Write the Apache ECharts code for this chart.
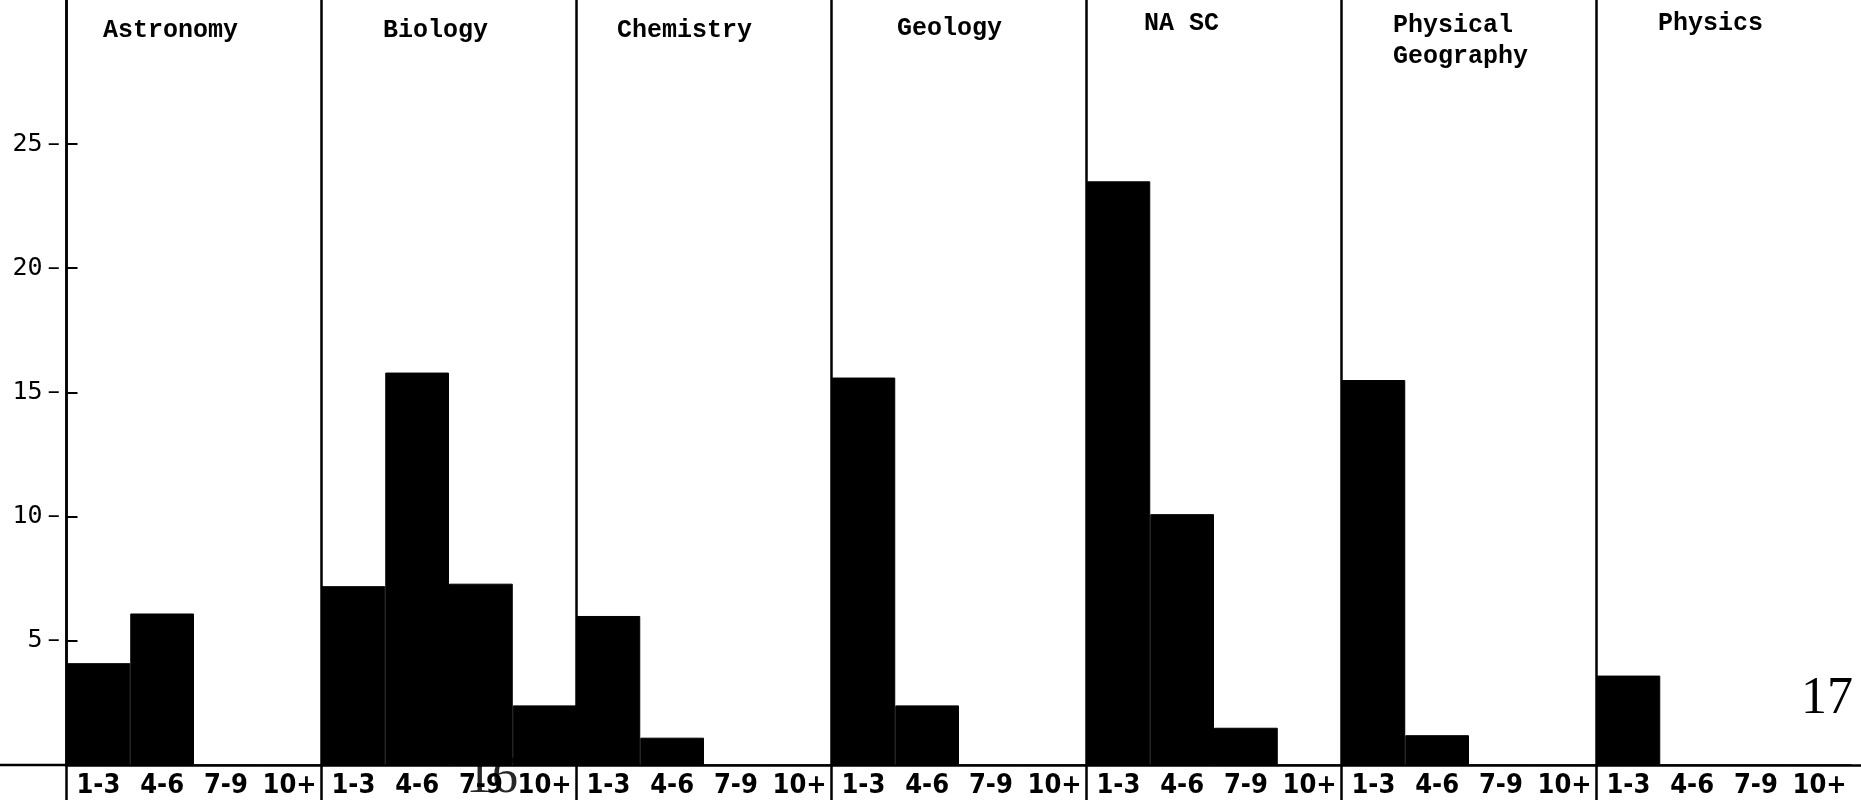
<!DOCTYPE html>
<html>
<head>
<meta charset="utf-8">
<script src="https://cdn.jsdelivr.net/npm/echarts@6/dist/echarts.min.js"></script>
<style>
  html, body { margin: 0; padding: 0; background: #fff; }
  #chart { width: 1861px; height: 800px; }
</style>
</head>
<body>
<div id="chart"></div>
<script>
// ---- data ----
const subjects = ['Astronomy', 'Biology', 'Chemistry', 'Geology', 'NA SC', 'Physical\nGeography', 'Physics'];
const bins = ['1-3', '4-6', '7-9', '10+'];
const astronomy = [4.1, 6.1, 0, 0];
const biology = [7.2, 15.8, 7.3, 2.4];
const chemistry = [6.0, 1.1, 0, 0];
const geology = [15.6, 2.4, 0, 0];
const naSc = [23.5, 10.1, 1.5, 0];
const physicalGeography = [15.5, 1.2, 0, 0];
const physics = [3.6, 0, 0, 0];
const yTicks = [5, 10, 15, 20, 25];
const pageNumber = '17';

// ---- build ----
const subjectValues = [astronomy, biology, chemistry, geology, naSc, physicalGeography, physics];
const categories = [];
const values = [];
subjectValues.forEach(function (arr) {
  bins.forEach(function (b, i) { categories.push(b); values.push(arr[i]); });
});
const nCat = categories.length;
// one empty trailing slot past the page edge so the axis runs to the right border
const axisCats = categories.concat(['']);
const axisValues = values.concat([null]);

// layout of panel titles (text annotations)
const titleLayout = [
  { x: 103, y: 31 }, { x: 383, y: 31 }, { x: 617, y: 31 }, { x: 897, y: 29 },
  { x: 1144, y: 24 }, { x: 1393, y: 41 }, { x: 1658, y: 24 }
];
const bandWidth = 63.75;

const chart = echarts.init(document.getElementById('chart'), null, { renderer: 'canvas' });
const monoTitle = 'Liberation Mono, Courier New, monospace';
const panelBoundary = function (idx) { return idx % bins.length === 0 && idx < nCat; };

const option = {
  backgroundColor: '#ffffff',
  animation: false,
  grid: { left: 66.5, top: 0, width: bandWidth * axisCats.length, height: 765,
          containLabel: false, outerBoundsMode: 'none' },
  xAxis: {
    type: 'category',
    data: axisCats,
    boundaryGap: true,
    axisLine: { show: true, lineStyle: { color: '#000', width: 2.5 } },
    axisTick: { show: true, interval: panelBoundary, length: 40, alignWithLabel: false,
                lineStyle: { color: '#000', width: 2.5 } },
    splitLine: { show: true, interval: panelBoundary, lineStyle: { color: '#000', width: 2.5 } },
    axisLabel: {
      interval: 0, margin: 7, color: '#000',
      fontFamily: 'DejaVu Sans Condensed, DejaVu Sans, sans-serif',
      fontWeight: 'bold', fontSize: 27
    }
  },
  yAxis: {
    type: 'value',
    min: 0, max: 30.8, interval: 5,
    axisLine: { show: true, lineStyle: { color: '#000', width: 2.5 } },
    axisTick: { show: true, inside: true, length: 11, customValues: yTicks,
                lineStyle: { color: '#000', width: 2 } },
    splitLine: { show: false },
    axisLabel: {
      customValues: yTicks, margin: 6.5, color: '#000',
      formatter: function (v) { return '{n|' + v + '}{d|\u2013}'; },
      rich: {
        n: { fontFamily: 'DejaVu Sans Mono, monospace', fontSize: 25, color: '#000' },
        d: { fontFamily: 'DejaVu Sans, sans-serif', fontSize: 25, color: '#000', padding: [0, 0, 0, 5] }
      }
    }
  },
  series: [{
    type: 'bar',
    data: axisValues,
    barCategoryGap: '0%',
    itemStyle: { color: '#000', borderColor: '#000', borderWidth: 1 },
    silent: true
  }],
  graphic: []
};
chart.setOption(option);

// graphic annotations
const baseY = chart.convertToPixel({ yAxisIndex: 0 }, 0);
const graphics = [];
// baseline continues left of the y axis
graphics.push({
  type: 'line', silent: true,
  shape: { x1: 0, y1: baseY, x2: 66.5, y2: baseY },
  style: { stroke: '#000', lineWidth: 2.5 }
});
subjects.forEach(function (s, i) {
  graphics.push({
    type: 'text', silent: true,
    x: titleLayout[i].x, y: titleLayout[i].y,
    style: {
      text: s, fill: '#000', font: 'bold 25px ' + monoTitle,
      align: 'left', verticalAlign: 'middle', lineHeight: 31
    }
  });
});
// page number
graphics.push({
  type: 'text', silent: true, x: 1853, y: 699,
  style: { text: pageNumber, fill: '#000', font: '52px Liberation Serif, Times New Roman, serif',
           align: 'right', verticalAlign: 'middle' }
});
// bleed-through of the previous page number
graphics.push({
  type: 'text', silent: true, x: 466, y: 804,
  style: { text: '16', fill: '#000', opacity: 0.85, font: '52px Liberation Serif, Times New Roman, serif',
           align: 'left', verticalAlign: 'bottom' }
});
chart.setOption({ graphic: graphics });
</script>
</body>
</html>
